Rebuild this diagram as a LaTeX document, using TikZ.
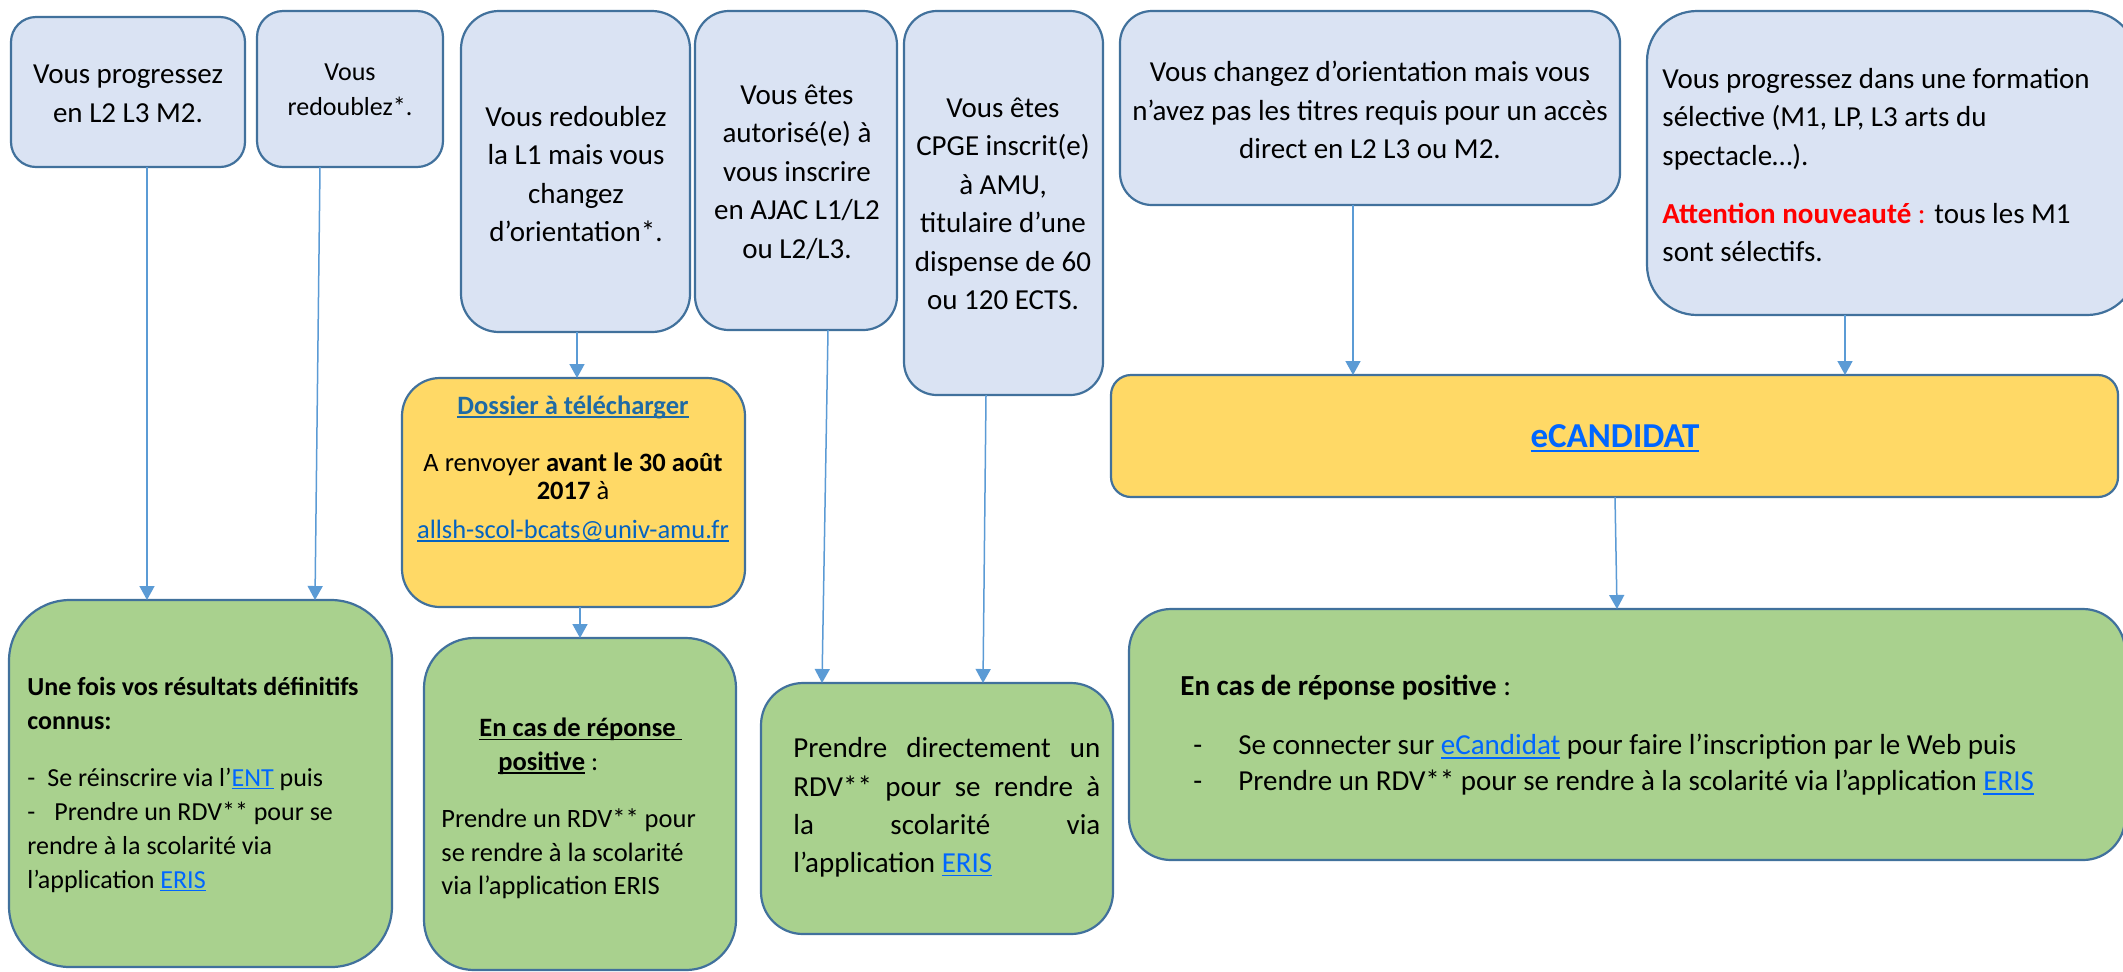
\documentclass[tikz,border=0pt]{standalone}
\usepackage{fontspec}
\setmainfont{Carlito}
\usetikzlibrary{arrows.meta,fit}
\definecolor{boxline}{RGB}{65,113,156}
\definecolor{bluefill}{RGB}{218,227,243}
\definecolor{yellowfill}{RGB}{255,217,102}
\definecolor{greenfill}{RGB}{169,209,142}
\definecolor{arrowc}{RGB}{91,155,213}
\definecolor{linkblue}{RGB}{0,102,255}
\definecolor{maillink}{RGB}{5,99,193}
\definecolor{dossblue}{RGB}{31,106,165}
\definecolor{attred}{RGB}{255,0,0}
\newsavebox{\ulsave}
\newcommand{\ulnk}[1]{\sbox{\ulsave}{#1}\rlap{\rule[-0.13em]{\wd\ulsave}{0.055em}}\usebox{\ulsave}}
\newcommand{\jl}[1]{\makebox[153.5pt][s]{#1}}
\newcommand{\fa}{\fontsize{14.5pt}{19.25pt}\selectfont}
\newcommand{\fb}{\fontsize{13pt}{17.5pt}\selectfont}
\newcommand{\fc}{\fontsize{13.25pt}{14pt}\selectfont}
\newcommand{\fd}{\fontsize{13pt}{17pt}\selectfont}
\newcommand{\fe}{\fontsize{13.25pt}{16.75pt}\selectfont}
\newcommand{\fg}{\fontsize{14.5pt}{19.15pt}\selectfont}
\newcommand{\fh}{\fontsize{14.5pt}{18pt}\selectfont}
\tikzset{
  shapebox/.style={draw=boxline, line width=1.1pt, inner sep=0pt, outer sep=0pt},
  bluebox/.style={shapebox, fill=bluefill, rounded corners=#1},
  yellowbox/.style={shapebox, fill=yellowfill, rounded corners=#1},
  greenbox/.style={shapebox, fill=greenfill, rounded corners=#1},
  txt/.style={inner sep=0pt, align=center},
  arr/.style={draw=arrowc, line width=0.75pt, -{Triangle[length=7pt,width=7.5pt]}},
}
\begin{document}
\begin{tikzpicture}[x=0.5pt,y=-0.5pt]
\fill[white] (0,0) rectangle (2123,971);
\useasboundingbox (0,0) rectangle (2123,971);

% top row
\node[bluebox=12.5pt, fit={(11,17) (245,167)}] (b1) {};
\node[bluebox=13pt, fit={(257,11) (443,167)}] (b2) {};
\node[bluebox=19pt, fit={(461,11) (690,332)}] (b3) {};
\node[bluebox=17pt, fit={(695,11) (897,330)}] (b4) {};
\node[bluebox=16.5pt, fit={(904,11) (1103,395)}] (b5) {};
\node[bluebox=16pt, fit={(1120,11) (1620,205)}] (b6) {};
\node[bluebox=25pt, fit={(1647,11) (2137,315)}] (b7) {};

% middle row
\node[yellowbox=19pt, fit={(402,378) (745,607)}] (y1) {};
\node[yellowbox=10pt, fit={(1111,375) (2118,497)}] (ec) {};

% bottom row
\node[greenbox=30.5pt, fit={(9,600) (392,967)}] (g1) {};
\node[greenbox=25pt, fit={(424,638) (736,970)}] (g2) {};
\node[greenbox=21pt, fit={(761,683) (1113,934)}] (g3) {};
\node[greenbox=21pt, fit={(1129,609) (2125,860)}] (g4) {};

% texts
\node[txt, font=\fa] (t1) at (128,94) {Vous progressez\\en L2 L3 M2.};
\node[txt, font=\fb] (t2) at (350,90) {Vous\\redoublez*.};
\node[txt, font=\fa] (t3) at (576,174) {Vous redoublez\\la L1 mais vous\\changez\\d’orientation*.};
\node[txt, font=\fa] (t4) at (797,172) {Vous êtes\\autorisé(e) à\\vous inscrire\\en AJAC L1/L2\\ou L2/L3.};
\node[txt, font=\fa] (t5) at (1003,204) {Vous êtes\\CPGE inscrit(e)\\à AMU,\\titulaire d’une\\dispense de 60\\ou 120 ECTS.};
\node[txt, font=\fa] (t6) at (1370,110) {Vous changez d’orientation mais vous\\n’avez pas les titres requis pour un accès\\direct en L2 L3 ou M2.};
\node[txt, font=\fa, align=left, anchor=west] (t7) at (1662,165) {Vous progressez dans une formation\\sélective (M1, LP, L3 arts du\\spectacle…).\\[9.75pt]\textcolor{attred}{\textbf{Attention nouveauté} :} tous les M1\\sont sélectifs.};

\node[txt, font=\fc\bfseries, text=dossblue] (y1t) at (573,407) {\ulnk{Dossier à télécharger}};
\node[txt, font=\fc] (y1b) at (573,497) {A renvoyer \textbf{avant le 30 août}\\\textbf{2017} à\\[5.5pt]\textcolor{maillink}{\ulnk{allsh-scol-bcats@univ-amu.fr}}};

\node[txt, font=\fontsize{17.5pt}{21pt}\selectfont\bfseries, text=linkblue] (ect) at (1615,438) {\ulnk{eCANDIDAT}};

\node[txt, font=\fd, align=left, anchor=west] (g1t) at (27,784.5) {\textbf{Une fois vos résultats définitifs}\\\textbf{connus:}\\[11.5pt]-\hspace{6pt}Se réinscrire via l’\textcolor{linkblue}{\ulnk{ENT}} puis\\-\hspace{9.5pt}Prendre un RDV** pour se\\rendre à la scolarité via\\l’application \textcolor{linkblue}{\ulnk{ERIS}}};

\node[txt, font=\fe, align=left, anchor=west] (g2a) at (479,746.5) {\textbf{\ulnk{En cas de réponse\ }}\\\hspace{9.5pt}\textbf{\ulnk{positive}} :};
\node[txt, font=\fe, align=left, anchor=west] (g2b) at (441,854) {Prendre un RDV** pour\\se rendre à la scolarité\\via l’application ERIS};

\node[txt, font=\fg, align=left, anchor=west] (g3t) at (793,807.5) {\jl{Prendre directement un}\\\jl{RDV** pour se rendre à}\\\jl{la scolarité via}\\l’application \textcolor{linkblue}{\ulnk{ERIS}}};

\node[txt, font=\fa, anchor=west] (g4a) at (1180,688) {\textbf{En cas de réponse positive} :};
\node[txt, font=\fh, align=left, anchor=west] (g4b) at (1193,765) {\makebox[22.5pt][l]{-}Se connecter sur \textcolor{linkblue}{\ulnk{eCandidat}} pour faire l’inscription par le Web puis\\\makebox[22.5pt][l]{-}Prendre un RDV** pour se rendre à la scolarité via l’application \textcolor{linkblue}{\ulnk{ERIS}}};

% connector x positions
\coordinate (k147) at (147,0);
\coordinate (k320) at (320,0);
\coordinate (k315) at (315,0);
\coordinate (k577) at (577,0);
\coordinate (k580) at (580,0);
\coordinate (k828) at (828,0);
\coordinate (k822) at (822,0);
\coordinate (k986) at (986,0);
\coordinate (k983) at (983,0);
\coordinate (k1353) at (1353,0);
\coordinate (k1845) at (1845,0);
\coordinate (k1615) at (1615,0);
\coordinate (k1617) at (1617,0);

\draw[arr] (b1.south -| k147) -- (g1.north -| k147);
\draw[arr] (b2.south -| k320) -- (g1.north -| k315);
\draw[arr] (b3.south -| k577) -- (y1.north -| k577);
\draw[arr] (y1.south -| k580) -- (g2.north -| k580);
\draw[arr] (b4.south -| k828) -- (g3.north -| k822);
\draw[arr] (b5.south -| k986) -- (g3.north -| k983);
\draw[arr] (b6.south -| k1353) -- (ec.north -| k1353);
\draw[arr] (b7.south -| k1845) -- (ec.north -| k1845);
\draw[arr] (ec.south -| k1615) -- (g4.north -| k1617);
\end{tikzpicture}
\end{document}
